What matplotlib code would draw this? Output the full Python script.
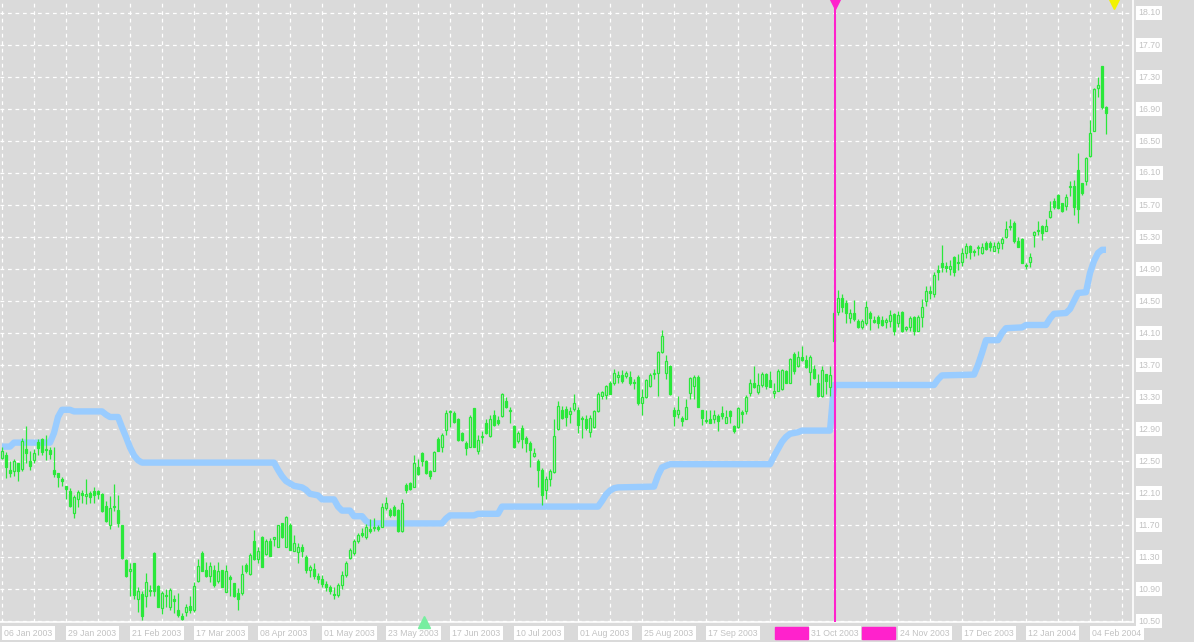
import numpy as np
import matplotlib
matplotlib.use('Agg')
import matplotlib.pyplot as plt
from matplotlib.patches import Rectangle

# daily OHLC, one value per bar (06 Jan 2003 .. Feb 2004)
open_ = [12.54, 12.57, 12.39, 12.37, 12.48, 12.40, 12.65, 12.50, 12.51, 12.74,
         12.77, 12.64, 12.64, 12.39, 12.35, 12.27, 12.19, 12.13, 11.85, 12.02,
         12.10, 12.06, 12.10, 12.12, 12.13, 12.09, 11.94, 11.70, 11.94, 11.89,
         11.70, 11.26, 11.13, 11.23, 10.77, 10.84, 10.81, 10.89, 11.35, 10.94,
         10.66, 10.83, 10.68, 10.77, 10.64, 10.56, 10.61, 10.69, 10.64, 11.00,
         11.35, 11.14, 11.06, 11.14, 11.00, 11.14, 10.86, 11.05, 10.97, 10.85,
         10.85, 11.20, 11.09, 11.50, 11.27, 11.55, 11.34, 11.50, 11.52, 11.43,
         11.72, 11.43, 11.70, 11.38, 11.36, 11.43, 11.30, 11.14, 11.15, 11.06,
         11.02, 10.96, 10.92, 10.84, 10.82, 10.95, 11.08, 11.29, 11.35, 11.50,
         11.60, 11.55, 11.65, 11.66, 11.67, 11.68, 11.91, 11.89, 11.93, 11.89,
         11.63, 12.20, 12.23, 12.18, 12.43, 12.60, 12.50, 12.37, 12.38, 12.77,
         12.68, 12.89, 13.11, 13.10, 13.03, 12.85, 12.72, 12.68, 13.16, 12.63,
         12.80, 12.97, 12.81, 13.08, 13.01, 13.06, 13.25, 13.14, 12.94, 12.75,
         12.91, 12.79, 12.73, 12.56, 12.50, 12.39, 12.14, 12.27, 12.36, 12.90,
         13.14, 13.15, 13.09, 13.15, 13.14, 13.03, 13.03, 12.86, 12.93, 13.12,
         13.31, 13.33, 13.48, 13.48, 13.55, 13.58, 13.56, 13.55, 13.49, 13.55,
         13.23, 13.30, 13.44, 13.59, 13.60, 13.86, 13.60, 13.69, 13.14, 13.09,
         13.04, 13.03, 13.35, 13.44, 13.55, 13.14, 13.01, 13.02, 13.02, 13.06,
         13.10, 12.98, 13.12, 12.94, 12.93, 13.11, 13.12, 13.35, 13.48, 13.36,
         13.45, 13.59, 13.51, 13.35, 13.38, 13.40, 13.63, 13.48, 13.84, 13.69,
         13.80, 13.76, 13.61, 13.65, 13.48, 13.31, 13.59, 13.43, 14.35, 14.36,
         14.54, 14.47, 14.29, 14.35, 14.25, 14.17, 14.22, 14.35, 14.26, 14.30,
         14.26, 14.24, 14.25, 14.34, 14.23, 14.36, 14.15, 14.18, 14.30, 14.13,
         14.30, 14.50, 14.62, 14.59, 14.89, 14.97, 14.94, 14.90, 15.05, 14.98,
         14.99, 15.10, 15.19, 15.12, 15.16, 15.10, 15.23, 15.22, 15.13, 15.16,
         15.23, 15.30, 15.44, 15.48, 15.25, 15.27, 14.95, 14.99, 15.33, 15.38,
         15.44, 15.38, 15.55, 15.75, 15.83, 15.72, 15.69, 15.92, 15.94, 16.14,
         15.98, 16.00, 16.31, 16.63, 17.16, 17.44, 16.93]

high = [12.68, 12.61, 12.50, 12.52, 12.48, 12.79, 12.94, 12.62, 12.65, 12.77,
        12.79, 12.83, 12.68, 12.68, 12.35, 12.30, 12.19, 12.16, 12.08, 12.14,
        12.14, 12.28, 12.12, 12.17, 12.14, 12.10, 12.00, 12.06, 12.21, 12.07,
        11.70, 11.27, 11.23, 11.23, 10.93, 10.87, 11.10, 10.95, 11.36, 10.95,
        10.87, 10.90, 10.91, 10.83, 10.85, 10.60, 10.71, 10.81, 10.99, 11.27,
        11.37, 11.24, 11.24, 11.20, 11.24, 11.14, 11.20, 11.07, 10.97, 10.91,
        11.20, 11.22, 11.35, 11.64, 11.42, 11.56, 11.52, 11.54, 11.55, 11.70,
        11.72, 11.81, 11.73, 11.58, 11.48, 11.46, 11.32, 11.20, 11.22, 11.10,
        11.08, 11.00, 10.95, 10.92, 10.98, 11.12, 11.25, 11.41, 11.52, 11.60,
        11.66, 11.71, 11.77, 11.79, 11.70, 11.98, 12.05, 11.91, 11.95, 11.90,
        12.02, 12.23, 12.24, 12.57, 12.52, 12.61, 12.51, 12.39, 12.62, 12.80,
        12.85, 13.14, 13.14, 13.12, 13.04, 12.86, 12.75, 13.07, 13.16, 12.82,
        12.88, 13.03, 13.08, 13.14, 13.06, 13.35, 13.30, 13.18, 12.95, 12.87,
        12.95, 12.81, 12.75, 12.66, 12.52, 12.41, 12.31, 12.40, 13.02, 13.25,
        13.19, 13.19, 13.18, 13.34, 13.18, 13.06, 13.08, 13.08, 13.14, 13.36,
        13.38, 13.45, 13.50, 13.65, 13.62, 13.64, 13.63, 13.62, 13.52, 13.57,
        13.40, 13.52, 13.60, 13.65, 13.87, 14.14, 13.83, 13.70, 13.18, 13.31,
        13.06, 13.27, 13.55, 13.57, 13.57, 13.14, 13.14, 13.14, 13.14, 13.09,
        13.19, 13.14, 13.14, 12.95, 13.18, 13.14, 13.32, 13.52, 13.69, 13.60,
        13.61, 13.60, 13.62, 13.47, 13.65, 13.65, 13.64, 13.79, 13.86, 13.87,
        13.94, 13.82, 13.82, 13.70, 13.59, 13.69, 13.59, 13.69, 14.38, 14.64,
        14.59, 14.51, 14.40, 14.51, 14.27, 14.27, 14.50, 14.37, 14.31, 14.32,
        14.31, 14.29, 14.39, 14.35, 14.37, 14.37, 14.19, 14.31, 14.31, 14.33,
        14.53, 14.69, 14.69, 14.86, 14.95, 15.20, 14.99, 15.01, 15.06, 15.09,
        15.16, 15.23, 15.20, 15.15, 15.20, 15.22, 15.25, 15.25, 15.24, 15.25,
        15.30, 15.50, 15.53, 15.50, 15.30, 15.29, 14.98, 15.10, 15.37, 15.50,
        15.45, 15.52, 15.75, 15.79, 15.84, 15.73, 15.84, 16.00, 16.01, 16.35,
        15.98, 16.30, 16.76, 17.16, 17.30, 17.44, 16.94]

low = [12.52, 12.29, 12.30, 12.31, 12.25, 12.37, 12.47, 12.39, 12.47, 12.58,
       12.58, 12.51, 12.52, 12.30, 12.17, 12.19, 12.03, 11.93, 11.79, 11.92,
       11.98, 11.96, 11.98, 11.98, 12.02, 11.86, 11.74, 11.65, 11.87, 11.68,
       11.28, 11.05, 10.81, 10.77, 10.61, 10.51, 10.68, 10.81, 10.81, 10.68,
       10.59, 10.68, 10.64, 10.60, 10.55, 10.51, 10.56, 10.60, 10.61, 10.99,
       11.12, 11.05, 10.99, 10.93, 10.97, 10.93, 10.86, 10.81, 10.80, 10.64,
       10.83, 11.10, 11.08, 11.26, 11.22, 11.18, 11.32, 11.31, 11.44, 11.43,
       11.54, 11.43, 11.39, 11.38, 11.22, 11.30, 11.10, 11.05, 11.02, 10.98,
       10.93, 10.88, 10.84, 10.78, 10.80, 10.90, 11.05, 11.27, 11.33, 11.48,
       11.55, 11.53, 11.60, 11.63, 11.63, 11.67, 11.89, 11.80, 11.81, 11.61,
       11.61, 12.10, 12.14, 12.18, 12.33, 12.44, 12.34, 12.28, 12.37, 12.62,
       12.61, 12.82, 12.93, 12.98, 12.75, 12.75, 12.58, 12.67, 12.67, 12.59,
       12.73, 12.84, 12.80, 12.94, 12.95, 13.05, 13.16, 12.98, 12.66, 12.73,
       12.66, 12.61, 12.43, 12.55, 12.18, 11.95, 12.02, 12.19, 12.35, 12.89,
       13.02, 12.94, 12.98, 13.13, 12.85, 12.79, 12.89, 12.80, 12.91, 13.11,
       13.27, 13.27, 13.34, 13.45, 13.48, 13.48, 13.54, 13.45, 13.40, 13.20,
       13.08, 13.29, 13.43, 13.52, 13.31, 13.85, 13.52, 13.33, 12.94, 13.04,
       12.94, 13.02, 13.27, 13.27, 13.17, 12.95, 12.98, 12.97, 12.97, 12.87,
       13.02, 12.97, 12.97, 12.85, 12.91, 12.97, 13.09, 13.31, 13.41, 13.34,
       13.43, 13.40, 13.42, 13.29, 13.37, 13.39, 13.47, 13.47, 13.59, 13.67,
       13.75, 13.66, 13.45, 13.52, 13.30, 13.30, 13.34, 13.31, 13.99, 14.33,
       14.36, 14.23, 14.22, 14.25, 14.16, 14.15, 14.20, 14.14, 14.22, 14.16,
       14.19, 14.16, 14.18, 14.07, 14.18, 14.11, 14.13, 14.12, 14.07, 14.12,
       14.18, 14.44, 14.52, 14.55, 14.76, 14.86, 14.86, 14.82, 14.81, 14.89,
       14.94, 15.04, 15.03, 15.06, 15.07, 15.09, 15.14, 15.12, 15.12, 15.10,
       15.15, 15.29, 15.39, 15.22, 15.18, 14.97, 14.90, 14.93, 15.18, 15.33,
       15.26, 15.37, 15.54, 15.65, 15.65, 15.61, 15.64, 15.81, 15.58, 15.47,
       15.83, 15.95, 16.30, 16.62, 17.05, 16.90, 16.59]

close = [12.62, 12.43, 12.35, 12.50, 12.38, 12.75, 12.60, 12.44, 12.60, 12.66,
         12.61, 12.65, 12.59, 12.34, 12.30, 12.25, 12.15, 11.94, 12.05, 12.11,
         12.08, 12.09, 12.05, 12.07, 12.09, 11.87, 11.75, 11.91, 11.93, 11.72,
         11.29, 11.06, 11.15, 10.82, 10.87, 10.56, 10.99, 10.87, 10.88, 10.68,
         10.85, 10.81, 10.89, 10.75, 10.58, 10.53, 10.67, 10.64, 10.94, 11.19,
         11.13, 11.06, 11.19, 10.95, 11.13, 10.93, 11.13, 11.03, 10.81, 10.77,
         11.09, 11.13, 11.33, 11.27, 11.38, 11.18, 11.50, 11.31, 11.55, 11.70,
         11.55, 11.80, 11.39, 11.47, 11.43, 11.37, 11.14, 11.18, 11.06, 11.02,
         10.96, 10.92, 10.87, 10.82, 10.95, 11.08, 11.22, 11.39, 11.50, 11.58,
         11.57, 11.68, 11.62, 11.68, 11.65, 11.93, 11.98, 11.82, 11.83, 11.62,
         11.97, 12.14, 12.15, 12.47, 12.34, 12.50, 12.35, 12.31, 12.61, 12.63,
         12.83, 13.10, 13.13, 12.99, 12.76, 12.76, 12.66, 13.05, 12.68, 12.76,
         12.81, 12.85, 13.02, 12.95, 12.97, 13.34, 13.18, 13.13, 12.68, 12.85,
         12.77, 12.72, 12.64, 12.60, 12.39, 12.07, 12.27, 12.38, 12.81, 13.19,
         13.04, 13.05, 13.13, 13.22, 12.95, 13.02, 12.91, 13.04, 13.12, 13.34,
         13.36, 13.44, 13.34, 13.60, 13.58, 13.50, 13.60, 13.48, 13.48, 13.23,
         13.30, 13.51, 13.57, 13.60, 13.86, 14.06, 13.75, 13.34, 13.06, 13.14,
         13.00, 13.18, 13.54, 13.55, 13.18, 13.04, 13.00, 12.98, 13.07, 13.00,
         13.06, 13.05, 13.06, 12.88, 13.16, 13.09, 13.30, 13.48, 13.43, 13.45,
         13.59, 13.44, 13.43, 13.38, 13.63, 13.64, 13.48, 13.78, 13.62, 13.80,
         13.76, 13.68, 13.80, 13.54, 13.31, 13.64, 13.50, 13.57, 14.00, 14.54,
         14.42, 14.35, 14.35, 14.27, 14.17, 14.25, 14.43, 14.29, 14.24, 14.22,
         14.20, 14.26, 14.32, 14.12, 14.33, 14.13, 14.17, 14.29, 14.12, 14.30,
         14.43, 14.63, 14.60, 14.83, 14.86, 14.93, 14.91, 14.94, 14.86, 14.97,
         15.10, 15.19, 15.11, 15.11, 15.18, 15.18, 15.15, 15.18, 15.19, 15.22,
         15.27, 15.40, 15.42, 15.25, 15.18, 14.98, 14.94, 15.05, 15.36, 15.39,
         15.35, 15.44, 15.62, 15.68, 15.66, 15.62, 15.80, 15.93, 15.68, 15.65,
         15.85, 16.29, 16.60, 17.15, 17.20, 16.93, 16.85]

# trailing stop line, read at its turning points (bar index, price)
stop_bar = [0, 2, 3, 12, 13, 14, 15, 17, 18, 25, 26, 27, 29, 30, 31, 32, 33, 34,
            35, 68, 69, 70, 71, 72, 73, 75, 76, 77, 79, 80, 83, 84, 85, 87, 88,
            90, 91, 92, 110, 111, 112, 118, 119, 124, 125, 149, 150, 151, 152,
            153, 154, 163, 164, 165, 167, 192, 193, 194, 195, 196, 197, 199, 200,
            207, 208, 233, 234, 235, 243, 244, 245, 246, 249, 250, 251, 255, 256,
            261, 262, 263, 266, 267, 268, 269, 271, 272, 273, 274, 275, 276]
stop_val = [12.68, 12.68, 12.73, 12.73, 12.85, 13.05, 13.14, 13.14, 13.12, 13.12,
            13.08, 13.05, 13.05, 12.92, 12.80, 12.67, 12.57, 12.51, 12.48, 12.48,
            12.39, 12.31, 12.25, 12.22, 12.19, 12.17, 12.14, 12.09, 12.07, 12.02,
            12.02, 11.93, 11.88, 11.88, 11.81, 11.81, 11.75, 11.72, 11.72, 11.78,
            11.82, 11.82, 11.84, 11.84, 11.93, 11.93, 12.00, 12.08, 12.13, 12.16,
            12.17, 12.18, 12.32, 12.42, 12.46, 12.46, 12.56, 12.65, 12.74, 12.80,
            12.84, 12.86, 12.88, 12.88, 13.45, 13.45, 13.52, 13.57, 13.58, 13.70,
            13.85, 14.01, 14.01, 14.10, 14.16, 14.17, 14.20, 14.20, 14.28, 14.34,
            14.35, 14.40, 14.50, 14.60, 14.61, 14.85, 15.00, 15.10, 15.14, 15.14]

price_ticks = [10.50, 10.90, 11.30, 11.70, 12.10, 12.50, 12.90, 13.30, 13.70,
               14.10, 14.50, 14.90, 15.30, 15.70, 16.10, 16.50, 16.90, 17.30,
               17.70, 18.10]
date_bars = [0, 16, 32, 48, 64, 80, 96, 112, 128, 144, 160, 176, 224, 240, 256, 272]
date_labels = ['06 Jan 2003', '29 Jan 2003', '21 Feb 2003', '17 Mar 2003',
               '08 Apr 2003', '01 May 2003', '23 May 2003', '17 Jun 2003',
               '10 Jul 2003', '01 Aug 2003', '25 Aug 2003', '17 Sep 2003',
               '24 Nov 2003', '17 Dec 2003', '12 Jan 2004', '04 Feb 2004']
vline_bar = 208
vline_label = '31 Oct 2003'

bg = '#dadada'
green = '#2ae83a'
blue = '#99ccff'
magenta = '#ff22cc'
lbl_color = '#c2c2c2'
W, H = 1194, 642

plt.rcParams['font.family'] = ['Liberation Sans', 'DejaVu Sans']

fig = plt.figure(figsize=(W / 100, H / 100), dpi=100, facecolor=bg)
ax = fig.add_axes([0, 20 / H, 1133 / W, 622 / H], facecolor=bg)
ax.set_xlim(-0.5, 282.75)
ax.set_ylim(10.4875, 18.2625)

# grid
ax.set_xticks(np.arange(0, 283, 8))
ax.set_yticks(price_ticks)
ax.grid(True, color='white', linestyle=(0, (3, 3)), linewidth=0.9)
ax.set_axisbelow(True)
ax.tick_params(length=0, labelbottom=False, labelleft=False)
for s in ['left', 'top']:
    ax.spines[s].set_visible(False)
for s in ['right', 'bottom']:
    ax.spines[s].set_color('white')
    ax.spines[s].set_linewidth(1.2)

# stop line
ax.plot(stop_bar, stop_val, color=blue, linewidth=4.6, zorder=2,
        solid_joinstyle='round', solid_capstyle='butt')

# candles
o = np.array(open_)
c = np.array(close_ := close)
hi = np.array(high)
lo = np.array(low)
x = np.arange(len(c))
up = c >= o
ax.vlines(x, lo, hi, color=green, linewidth=0.9, zorder=3)
body_lo = np.minimum(o, c)
body_h = np.maximum(np.abs(c - o), 0.012)
ax.bar(x[up], body_h[up], bottom=body_lo[up], width=0.5, facecolor=bg,
       edgecolor=green, linewidth=0.9, zorder=4)
ax.bar(x[~up], body_h[~up], bottom=body_lo[~up], width=0.5, facecolor=green,
       edgecolor=green, linewidth=0.9, zorder=4)

# vertical line and markers
ax.axvline(vline_bar + 0.25, color=magenta, linewidth=1.5, zorder=5)
xt = ax.get_xaxis_transform()
ax.plot([vline_bar + 0.25], [1 - 4 / 622], marker='v', markersize=7, color=magenta,
        transform=xt, clip_on=False, zorder=6)
ax.plot([278], [1 - 4 / 622], marker='v', markersize=7, color='#f2f200',
        transform=xt, clip_on=False, zorder=6)
ax.plot([105.6], [0.0], marker='^', markersize=8, color='#77eea0',
        transform=xt, clip_on=False, zorder=6)

# price labels on the right
yt = ax.get_yaxis_transform()
for p in price_ticks:
    ax.text(1.0045, p, f'{p:.2f}', transform=yt, ha='left', va='center',
            fontsize=6.3, color=lbl_color,
            bbox=dict(boxstyle='square,pad=0.25', fc='white', ec='none'))

# date labels on the bottom
for b, lbl in zip(date_bars, date_labels):
    ax.text(b + 0.6, -11 / 622, lbl, transform=xt, ha='left', va='center',
            fontsize=6.3, color=lbl_color,
            bbox=dict(boxstyle='square,pad=0.25', fc='white', ec='none'))

for left in (775, 862):
    fig.add_artist(Rectangle((left / W, 3 / H), 33 / W, 12 / H,
                             transform=fig.transFigure, color=magenta, zorder=5))
ax.text(vline_bar + 0.25, -11 / 622, vline_label, transform=xt, ha='center',
        va='center', fontsize=6.3, color=lbl_color,
        bbox=dict(boxstyle='square,pad=0.25', fc='white', ec='none'))

fig.savefig('out.png', dpi=100, facecolor=bg)
